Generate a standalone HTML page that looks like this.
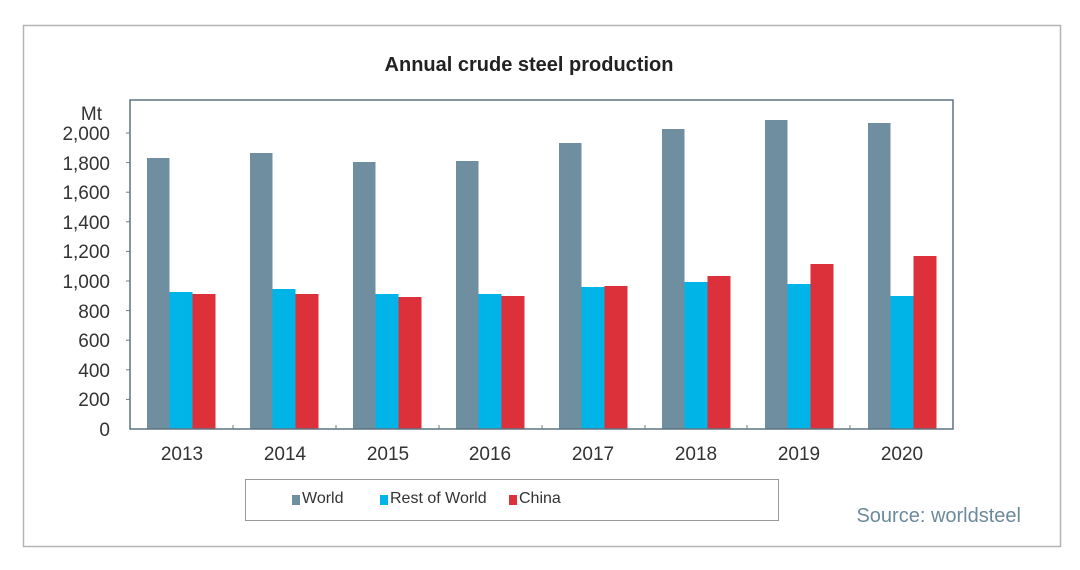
<!DOCTYPE html>
<html><head><meta charset="utf-8"><style>
body{margin:0;background:#fff;}
svg{display:block;font-family:"Liberation Sans",Arial,sans-serif;}
</style></head><body>
<svg width="1080" height="570" viewBox="0 0 1080 570">
<rect x="0" y="0" width="1080" height="570" fill="#fff"/>
<rect x="23.5" y="25.5" width="1037" height="521" fill="none" stroke="#b5b5b5" stroke-width="1.5"/>
<text x="529" y="71" text-anchor="middle" font-size="20" font-weight="bold" fill="#222">Annual crude steel production</text>
<g font-size="19" fill="#333" text-anchor="end">
<text x="102" y="120">Mt</text>
<text x="110" y="140">2,000</text>
<text x="110" y="170">1,800</text>
<text x="110" y="199">1,600</text>
<text x="110" y="229">1,400</text>
<text x="110" y="258">1,200</text>
<text x="110" y="288">1,000</text>
<text x="110" y="318">800</text>
<text x="110" y="347">600</text>
<text x="110" y="377">400</text>
<text x="110" y="406">200</text>
<text x="110" y="436">0</text>
</g>
<g stroke="#6e7f8c" stroke-width="1">
<line x1="126" y1="133" x2="130" y2="133"/><line x1="126" y1="162.6" x2="130" y2="162.6"/>
<line x1="126" y1="192.2" x2="130" y2="192.2"/><line x1="126" y1="221.8" x2="130" y2="221.8"/>
<line x1="126" y1="251.4" x2="130" y2="251.4"/><line x1="126" y1="281" x2="130" y2="281"/>
<line x1="126" y1="310.6" x2="130" y2="310.6"/><line x1="126" y1="340.2" x2="130" y2="340.2"/>
<line x1="126" y1="369.8" x2="130" y2="369.8"/><line x1="126" y1="399.4" x2="130" y2="399.4"/>
<line x1="233" y1="425" x2="233" y2="429"/><line x1="336" y1="425" x2="336" y2="429"/>
<line x1="439" y1="425" x2="439" y2="429"/><line x1="542" y1="425" x2="542" y2="429"/>
<line x1="645" y1="425" x2="645" y2="429"/><line x1="747" y1="425" x2="747" y2="429"/>
<line x1="850" y1="425" x2="850" y2="429"/>
</g>
<g>
<!-- 2013 -->
<rect x="147" y="158" width="22.5" height="271" fill="#6f8ea0"/>
<rect x="169.5" y="292" width="23" height="137" fill="#00b4e8"/>
<rect x="192.5" y="294" width="23" height="135" fill="#dc313a"/>
<!-- 2014 -->
<rect x="250" y="153" width="22.5" height="276" fill="#6f8ea0"/>
<rect x="272.5" y="289" width="23" height="140" fill="#00b4e8"/>
<rect x="295.5" y="294" width="23" height="135" fill="#dc313a"/>
<!-- 2015 -->
<rect x="353" y="162" width="22.5" height="267" fill="#6f8ea0"/>
<rect x="375.5" y="294" width="23" height="135" fill="#00b4e8"/>
<rect x="398.5" y="297" width="23" height="132" fill="#dc313a"/>
<!-- 2016 -->
<rect x="456" y="161" width="22.5" height="268" fill="#6f8ea0"/>
<rect x="478.5" y="294" width="23" height="135" fill="#00b4e8"/>
<rect x="501.5" y="296" width="23" height="133" fill="#dc313a"/>
<!-- 2017 -->
<rect x="559" y="143" width="22.5" height="286" fill="#6f8ea0"/>
<rect x="581.5" y="287" width="23" height="142" fill="#00b4e8"/>
<rect x="604.5" y="286" width="23" height="143" fill="#dc313a"/>
<!-- 2018 -->
<rect x="662" y="129" width="22.5" height="300" fill="#6f8ea0"/>
<rect x="684.5" y="282" width="23" height="147" fill="#00b4e8"/>
<rect x="707.5" y="276" width="23" height="153" fill="#dc313a"/>
<!-- 2019 -->
<rect x="765" y="120" width="22.5" height="309" fill="#6f8ea0"/>
<rect x="787.5" y="284" width="23" height="145" fill="#00b4e8"/>
<rect x="810.5" y="264" width="23" height="165" fill="#dc313a"/>
<!-- 2020 -->
<rect x="868" y="123" width="22.5" height="306" fill="#6f8ea0"/>
<rect x="890.5" y="296" width="23" height="133" fill="#00b4e8"/>
<rect x="913.5" y="256" width="23" height="173" fill="#dc313a"/>
</g>
<rect x="130" y="100" width="823" height="329" fill="none" stroke="#5f7480" stroke-width="1.5"/>
<g font-size="19" fill="#333" text-anchor="middle">
<text x="182" y="460">2013</text><text x="285" y="460">2014</text>
<text x="388" y="460">2015</text><text x="490" y="460">2016</text>
<text x="593" y="460">2017</text><text x="696" y="460">2018</text>
<text x="799" y="460">2019</text><text x="902" y="460">2020</text>
</g>
<rect x="245.5" y="479.5" width="533" height="41" fill="#fff" stroke="#999" stroke-width="1"/>
<rect x="292" y="495" width="8" height="10" fill="#6f8ea0"/>
<text x="302" y="503" font-size="16" fill="#333">World</text>
<rect x="380" y="495" width="8" height="10" fill="#00b4e8"/>
<text x="390" y="503" font-size="16" fill="#333">Rest of World</text>
<rect x="509" y="495" width="8" height="10" fill="#dc313a"/>
<text x="519" y="503" font-size="16" fill="#333">China</text>
<text x="1021" y="522" text-anchor="end" font-size="20" fill="#6b8b9b">Source: worldsteel</text>
</svg>
</body></html>
